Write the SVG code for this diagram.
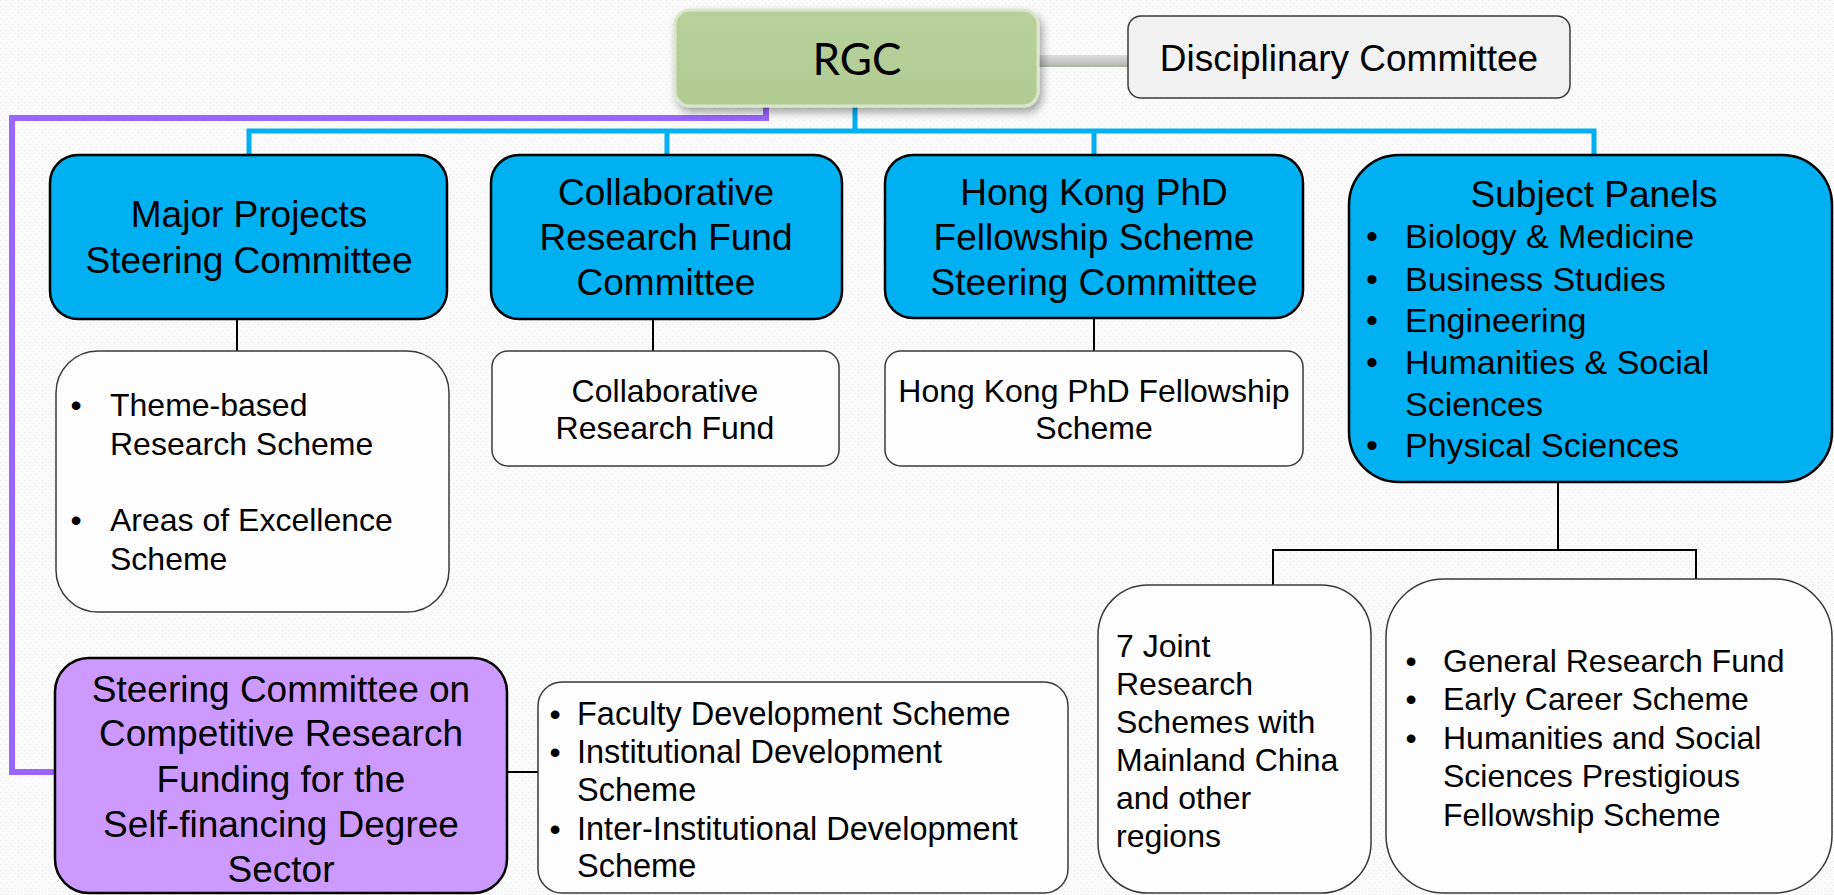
<svg xmlns="http://www.w3.org/2000/svg" width="1834" height="895" viewBox="0 0 1834 895">
<defs>
<pattern id="bg" width="6" height="6" patternUnits="userSpaceOnUse">
<rect width="6" height="6" fill="#fafafa"/>
<rect x="0" y="0" width="1" height="1" fill="#ececec"/>
<rect x="3" y="3" width="1" height="1" fill="#efefef"/>
</pattern>
<linearGradient id="green" x1="0" y1="0" x2="0" y2="1">
<stop offset="0" stop-color="#b8d19b"/>
<stop offset="1" stop-color="#b1cb93"/>
</linearGradient>
<linearGradient id="grayBar" x1="0" y1="0" x2="0" y2="1">
<stop offset="0" stop-color="#dcdcdc"/>
<stop offset="0.6" stop-color="#c6c6c6"/>
<stop offset="1" stop-color="#a9b2a3"/>
</linearGradient>
<filter id="shadow" x="-10%" y="-20%" width="125%" height="150%">
<feDropShadow dx="3" dy="5" stdDeviation="4" flood-color="#000" flood-opacity="0.35"/>
</filter>
<style>
.t{font-family:"Liberation Sans",Arial,sans-serif;fill:#000}
.c{text-anchor:middle}
.f37{font-size:37px}
.f34{font-size:34px}
.f32{font-size:32px}
.blue{fill:#00b0f0;stroke:#000;stroke-width:2.5}
.white{fill:#fdfdfd;stroke:#3a3a3a;stroke-width:1.5}
.purple{fill:#cc99ff;stroke:#000;stroke-width:2.5}
.ln{fill:none;stroke:#000;stroke-width:2}
</style>
</defs>
<rect width="1834" height="895" fill="url(#bg)"/>

<g id="connectors">
<rect x="1036" y="55" width="94" height="12" fill="url(#grayBar)"/>
<path d="M855,106 V131 M249,156 V131 H1594 V156 M667,131 V156 M1094,131 V156" fill="none" stroke="#00b0f0" stroke-width="5"/>
<path d="M766,106 V118 H12 V772 H56" fill="none" stroke="#9966ff" stroke-width="6"/>
<path class="ln" d="M237,319 V351 M653,319 V351 M1094,318 V351 M1558,482 V550 M1273,585 V550 H1696 V580 M507,772 H538"/>
</g>

<g id="rgc">
<rect x="675" y="10" width="363" height="96" rx="15" fill="url(#green)" stroke="#d9e6cb" stroke-width="3" filter="url(#shadow)"/>
<text x="857" y="75" class="c" font-family="Lato,'Open Sans',sans-serif" font-size="44" fill="#000">RGC</text>
</g>

<g id="disciplinary">
<rect x="1128" y="16" width="442" height="82" rx="13" fill="#f2f2f2" stroke="#3a3a3a" stroke-width="1.5"/>
<text x="1349" y="71" class="t c f37">Disciplinary Committee</text>
</g>

<g id="major-projects">
<rect x="50" y="155" width="397" height="164" rx="28" class="blue"/>
<text class="t c f37"><tspan x="249" y="227">Major Projects</tspan><tspan x="249" y="273">Steering Committee</tspan></text>
</g>

<g id="collab-committee">
<rect x="491" y="155" width="351" height="164" rx="28" class="blue"/>
<text class="t c f37"><tspan x="666" y="205">Collaborative</tspan><tspan x="666" y="250">Research Fund</tspan><tspan x="666" y="295">Committee</tspan></text>
</g>

<g id="hkphd-committee">
<rect x="885" y="155" width="418" height="163" rx="28" class="blue"/>
<text class="t c f37"><tspan x="1094" y="205">Hong Kong PhD</tspan><tspan x="1094" y="250">Fellowship Scheme</tspan><tspan x="1094" y="295">Steering Committee</tspan></text>
</g>

<g id="subject-panels">
<rect x="1349" y="155" width="483" height="327" rx="50" class="blue"/>
<text x="1594" y="207" class="t c f37">Subject Panels</text>
<text class="t c f34"><tspan x="1372" y="248">•</tspan><tspan x="1372" y="291">•</tspan><tspan x="1372" y="332">•</tspan><tspan x="1372" y="374">•</tspan><tspan x="1372" y="457">•</tspan></text>
<text class="t f34"><tspan x="1405" y="248">Biology &amp; Medicine</tspan><tspan x="1405" y="291">Business Studies</tspan><tspan x="1405" y="332">Engineering</tspan><tspan x="1405" y="374">Humanities &amp; Social</tspan><tspan x="1405" y="416">Sciences</tspan><tspan x="1405" y="457">Physical Sciences</tspan></text>
</g>

<g id="major-schemes">
<rect x="56" y="351" width="393" height="261" rx="42" class="white"/>
<text class="t c f32"><tspan x="76" y="416">•</tspan><tspan x="76" y="531">•</tspan></text>
<text class="t f32"><tspan x="110" y="416">Theme-based</tspan><tspan x="110" y="455">Research Scheme</tspan><tspan x="110" y="531">Areas of Excellence</tspan><tspan x="110" y="570">Scheme</tspan></text>
</g>

<g id="crf">
<rect x="492" y="351" width="347" height="115" rx="16" class="white"/>
<text class="t c f32"><tspan x="665" y="402">Collaborative</tspan><tspan x="665" y="439">Research Fund</tspan></text>
</g>

<g id="hkphd">
<rect x="885" y="351" width="418" height="115" rx="16" class="white"/>
<text class="t c f32"><tspan x="1094" y="402">Hong Kong PhD Fellowship</tspan><tspan x="1094" y="439">Scheme</tspan></text>
</g>

<g id="joint-schemes">
<rect x="1098" y="585" width="273" height="308" rx="50" class="white"/>
<text class="t f32"><tspan x="1116" y="657">7 Joint</tspan><tspan x="1116" y="695">Research</tspan><tspan x="1116" y="733">Schemes with</tspan><tspan x="1116" y="771">Mainland China</tspan><tspan x="1116" y="809">and other</tspan><tspan x="1116" y="847">regions</tspan></text>
</g>

<g id="grf">
<rect x="1386" y="579" width="446" height="314" rx="58" class="white"/>
<text class="t c f32"><tspan x="1411" y="672">•</tspan><tspan x="1411" y="710">•</tspan><tspan x="1411" y="749">•</tspan></text>
<text class="t f32"><tspan x="1443" y="672">General Research Fund</tspan><tspan x="1443" y="710">Early Career Scheme</tspan><tspan x="1443" y="749">Humanities and Social</tspan><tspan x="1443" y="787">Sciences Prestigious</tspan><tspan x="1443" y="826">Fellowship Scheme</tspan></text>
</g>

<g id="self-financing-committee">
<rect x="55" y="658" width="452" height="235" rx="34" class="purple"/>
<text class="t c f37"><tspan x="281" y="702">Steering Committee on</tspan><tspan x="281" y="746">Competitive Research</tspan><tspan x="281" y="792">Funding for the</tspan><tspan x="281" y="837">Self-financing Degree</tspan><tspan x="281" y="882">Sector</tspan></text>
</g>

<g id="self-financing-schemes">
<rect x="538" y="682" width="530" height="211" rx="24" class="white"/>
<text class="t c f32"><tspan x="555" y="725">•</tspan><tspan x="555" y="763">•</tspan><tspan x="555" y="840">•</tspan></text>
<text class="t f32" style="font-size:32.5px"><tspan x="577" y="725">Faculty Development Scheme</tspan><tspan x="577" y="763">Institutional Development</tspan><tspan x="577" y="801">Scheme</tspan><tspan x="577" y="840">Inter-Institutional Development</tspan><tspan x="577" y="877">Scheme</tspan></text>
</g>
</svg>
